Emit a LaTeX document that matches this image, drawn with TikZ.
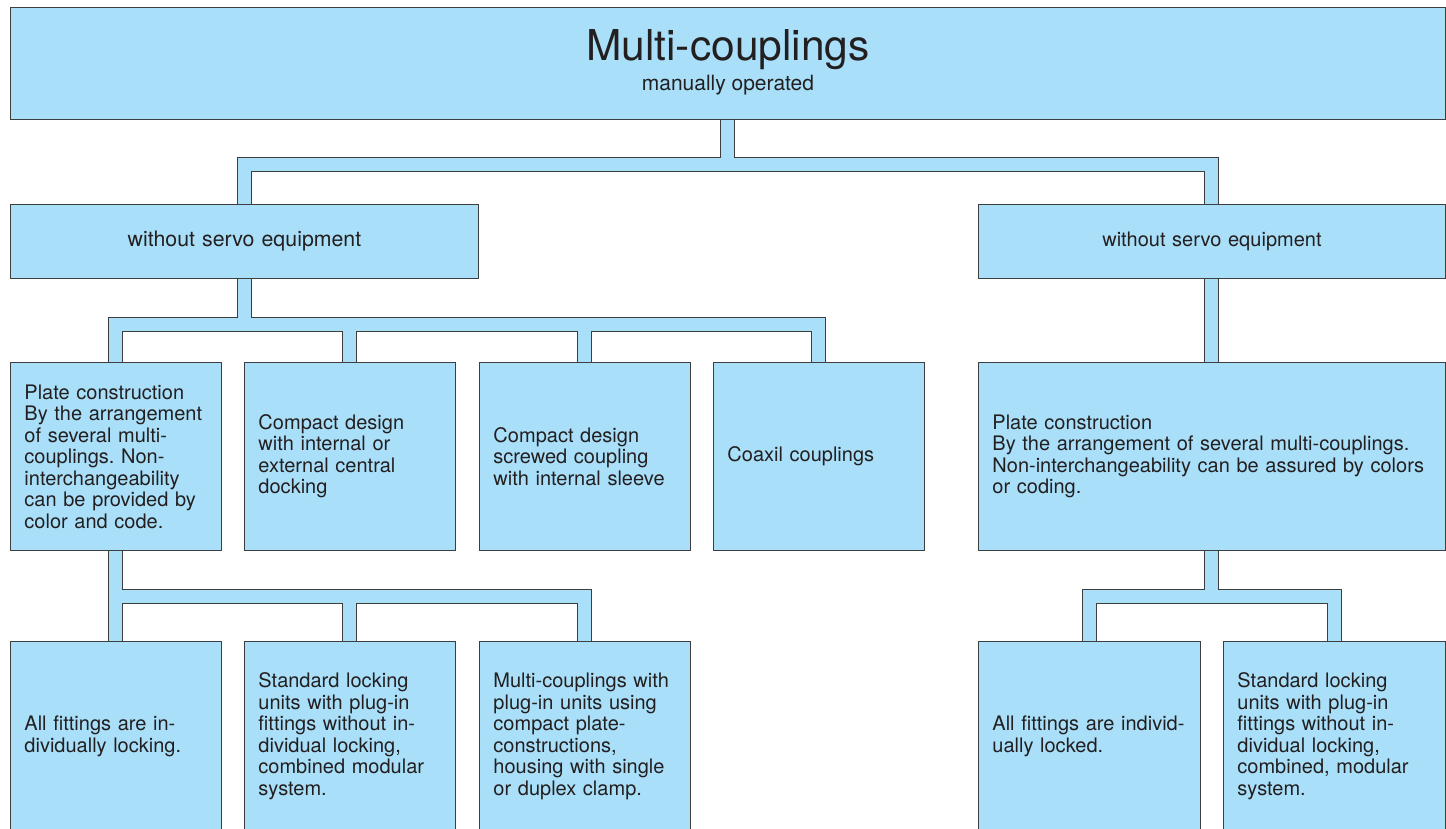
\documentclass[tikz,border=0pt]{standalone}
\usepackage{fontspec}
\setmainfont{TeX Gyre Heros}
\usetikzlibrary{calc}
\frenchspacing
\definecolor{pipeblue}{RGB}{169,223,249}
\definecolor{edgegray}{RGB}{62,62,62}
\definecolor{ink}{RGB}{35,31,32}
\pgfdeclarelayer{bg}
\pgfsetlayers{bg,main}
\tikzset{
  box/.style={draw=edgegray, line width=0.9pt, fill=pipeblue, anchor=north west,
    inner xsep=14pt, inner ysep=0pt, align=left, text=ink,
    font=\fontsize{20}{21.5}\selectfont\frenchspacing},
  cbox/.style={box, align=center, font=\fontsize{21.3}{22}\selectfont},
  pipeout/.style={draw=edgegray, line width=15pt, line join=miter},
  pipein/.style={draw=pipeblue, line width=13pt, line join=miter},
}
\newcommand\pipenet[1]{%
  \draw[#1] (top.south) -- (top.south |- j1);
  \draw[#1] (L.north) -- (L.north |- j1) -- (R.north |- j1) -- (R.north);
  \draw[#1] (L.south) -- (L.south |- j2);
  \draw[#1] (A.north) -- (A.north |- j2) -- (D.north |- j2) -- (D.north);
  \draw[#1] (B.north) -- (B.north |- j2);
  \draw[#1] (C.north) -- (C.north |- j2);
  \draw[#1] (R.south) -- (E.north);
  \draw[#1] (A.south) -- (F.north);
  \draw[#1] (A.south |- j3) -- (H.north |- j3) -- (H.north);
  \draw[#1] (G.north) -- (G.north |- j3);
  \draw[#1] (E.south) -- (E.south |- j3);
  \draw[#1] (I.north) -- (I.north |- j3) -- (J.north |- j3) -- (J.north);
}
\begin{document}
\begin{tikzpicture}[x=1pt, y=-1pt]
\useasboundingbox (0,0) rectangle (1446,829);
\clip (0,0) rectangle (1446,829);

\coordinate (j1) at (0,165);
\coordinate (j2) at (0,324);
\coordinate (j3) at (0,596);

% top box
\node[box, minimum width=1435pt, minimum height=112pt, inner sep=0pt] (top) at (10,7) {};
\node[anchor=base, inner sep=0pt, text=ink, font=\fontsize{42.5}{42.5}\selectfont] (title)
  at ($(top.north)+(0,54)$) {Multi-couplings};
\node[anchor=base, inner sep=0pt, text=ink, font=\fontsize{21}{21}\selectfont] (subtitle)
  at ($(top.north)+(0,84)$) {manually operated};

% level 2
\node[cbox, text width=440pt, minimum height=74pt] (L) at (10,204) {without servo equipment};
\node[cbox, text width=439pt, minimum height=74pt, font=\fontsize{20}{21}\selectfont] (R) at (978,204) {without servo equipment};

% level 3
\node[box, text width=183pt, minimum height=188pt] (A) at (10,362)
  {Plate construction\\By the arrangement\\of several multi-\\couplings. Non-\\interchangeability\\can be provided by\\color and code.};
\node[box, text width=183pt, minimum height=188pt] (B) at (244,362)
  {Compact design\\with internal or\\external central\\docking};
\node[box, text width=183pt, minimum height=188pt] (C) at (479,362)
  {Compact design\\screwed coupling\\with internal sleeve};
\node[box, text width=183pt, minimum height=188pt] (D) at (713,362)
  {Coaxil couplings};
\node[box, text width=439pt, minimum height=188pt] (E) at (978,362)
  {Plate construction\\By the arrangement of several multi-couplings.\\Non-interchangeability can be assured by colors\\or coding.};

% level 4
\node[box, text width=183pt, minimum height=190pt] (F) at (10,641)
  {All fittings are in-\\dividually locking.};
\node[box, text width=183pt, minimum height=190pt] (G) at (244,641)
  {Standard locking\\units with plug-in\\fittings without in-\\dividual locking,\\combined modular\\system.};
\node[box, text width=183pt, minimum height=190pt] (H) at (479,641)
  {Multi-couplings with\\plug-in units using\\compact plate-\\constructions,\\housing with single\\or duplex clamp.};
\node[box, text width=194pt, minimum height=190pt] (I) at (978,641)
  {All fittings are individ-\\ually locked.};
\node[box, text width=194pt, minimum height=190pt] (J) at (1223,641)
  {Standard locking\\units with plug-in\\fittings without in-\\dividual locking,\\combined, modular\\system.};

\begin{pgfonlayer}{bg}
  \pipenet{pipeout}
  \pipenet{pipein}
\end{pgfonlayer}
\end{tikzpicture}
\end{document}
